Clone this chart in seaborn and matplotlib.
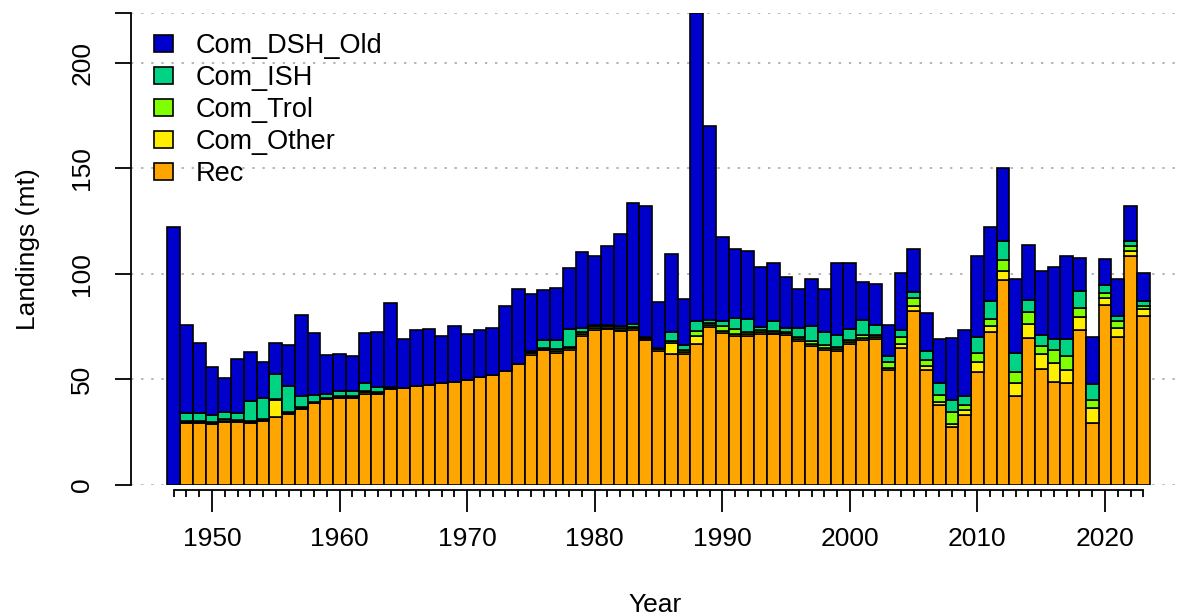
import pandas as pd
import matplotlib
matplotlib.use('Agg')
import matplotlib.pyplot as plt
from matplotlib.patches import Patch
import seaborn as sns

# Landings (mt) by fleet, 1947-2023
years = list(range(1947, 2024))
rec = [0, 29.5, 29.5, 29.0, 30.0, 30.0, 29.5, 30.3, 32.3, 33.8,
       36.0, 38.9, 40.8, 41.4, 41.4, 43.0, 43.2, 45.5, 46.1, 46.8,
       47.4, 48.1, 48.9, 49.6, 51.2, 52.2, 54.1, 57.5, 61.8, 64.0,
       62.5, 64.0, 70.4, 73.6, 73.9, 72.8, 73.3, 68.6, 63.7, 62.0,
       62.0, 66.7, 74.9, 72.0, 70.4, 70.4, 71.4, 71.7, 71.0, 68.2,
       66.0, 64.1, 63.5, 67.0, 68.9, 69.2, 54.4, 65.1, 82.3, 54.7,
       37.8, 27.6, 33.1, 53.3, 72.5, 97.0, 42.2, 69.8, 54.8, 48.9,
       48.4, 73.6, 29.2, 85.1, 70.1, 108.3, 79.9]
com_other = [0, 0.5, 0.5, 0.5, 0.4, 0.5, 0.5, 0.7, 8.0, 0.5,
             0.3, 0.2, 0.3, 0.4, 0.4, 1.0, 0.5, 0.2, 0, 0,
             0, 0, 0, 0, 0, 0, 0, 0, 0.5, 0.5,
             1.0, 1.0, 1.0, 0.8, 0.7, 0.8, 1.2, 0.5, 0.5, 5.3,
             1.0, 3.7, 1.0, 1.0, 1.2, 1.0, 1.0, 0.5, 0.8, 1.0,
             1.0, 1.0, 1.0, 0.8, 0.8, 1.0, 1.0, 1.5, 2.3, 1.5,
             1.5, 1.5, 2.2, 5.0, 3.0, 4.4, 6.2, 6.6, 7.1, 9.1,
             6.3, 6.0, 7.5, 3.6, 4.4, 2.5, 3.6]
com_trol = [0, 0.3, 0.5, 0.5, 1.0, 0.5, 0.5, 0.5, 0.3, 0.5,
            0.5, 0.3, 0.3, 0.5, 0.5, 0.5, 0.5, 0.2, 0, 0,
            0, 0, 0, 0, 0, 0, 0, 0, 0.5, 0.5,
            1.0, 0.5, 1.0, 0.8, 0.5, 0.8, 0.5, 0.5, 0.3, 0.8,
            1.0, 2.5, 1.0, 2.5, 2.5, 1.0, 0.8, 0.8, 0.8, 1.0,
            1.0, 1.0, 1.0, 0.8, 1.2, 1.0, 2.9, 3.5, 4.0, 2.8,
            3.5, 5.5, 2.5, 4.0, 3.3, 5.0, 5.2, 5.6, 3.8, 6.1,
            6.3, 4.4, 3.5, 2.2, 3.2, 2.5, 1.5]
com_ish = [0, 4.0, 3.7, 3.0, 3.0, 3.2, 9.4, 9.8, 11.9, 12.0,
           5.2, 3.0, 1.5, 2.1, 2.3, 3.9, 2.2, 0.3, 0, 0,
           0, 0, 0, 0, 0, 0, 0, 0, 0.7, 3.5,
           4.3, 8.5, 2.0, 0.8, 0.7, 0.8, 1.2, 0.5, 0.3, 4.4,
           2.5, 5.0, 1.5, 2.2, 5.0, 6.2, 1.8, 4.5, 2.0, 4.0,
           7.2, 6.2, 5.4, 5.5, 7.4, 4.4, 2.7, 3.5, 2.6, 4.5,
           5.5, 5.5, 4.5, 8.0, 8.2, 9.0, 9.0, 5.8, 5.2, 5.2,
           8.3, 7.7, 7.6, 4.0, 2.4, 2.5, 2.0]
com_dsh_old = [122.0, 41.3, 33.3, 22.8, 16.3, 25.4, 23.1, 17.0, 14.8, 19.4,
               38.4, 29.6, 18.6, 17.6, 16.4, 23.8, 26.1, 40.2, 23.1, 26.6,
               26.5, 22.3, 26.3, 22.0, 22.1, 22.0, 30.7, 35.5, 27.0, 24.0,
               24.7, 28.6, 36.1, 32.4, 37.2, 43.6, 57.6, 62.0, 22.0, 37.0,
               21.8, 145.7, 91.8, 40.0, 32.8, 32.2, 28.5, 27.6, 23.9, 18.8,
               22.2, 20.4, 34.2, 31.2, 17.8, 19.8, 14.6, 27.0, 20.7, 18.1,
               21.0, 29.6, 31.0, 38.0, 35.1, 34.6, 35.1, 26.1, 30.3, 34.2,
               39.1, 15.9, 22.3, 12.3, 17.3, 16.3, 13.6]

fleets = ['Com_DSH_Old', 'Com_ISH', 'Com_Trol', 'Com_Other', 'Rec']
fleet_colors = ['#0000CD', '#00D383', '#7FFF00', '#FFEE00', '#FFA500']

wide = pd.DataFrame({'Year': years, 'Rec': rec, 'Com_Other': com_other,
                     'Com_Trol': com_trol, 'Com_ISH': com_ish,
                     'Com_DSH_Old': com_dsh_old})
df = wide.melt(id_vars='Year', var_name='Fleet', value_name='Landings')
ymax = wide[fleets].sum(axis=1).max()

sns.set_style('ticks')
plt.rcParams['font.family'] = ['Liberation Sans', 'DejaVu Sans']
plt.rcParams.update({'text.color': 'black', 'axes.labelcolor': 'black',
                     'xtick.color': 'black', 'ytick.color': 'black',
                     'axes.edgecolor': 'black'})

fig = plt.figure(figsize=(11.79, 6.16), dpi=100)
ax = fig.add_axes([131 / 1179, (616 - 485) / 616, 1048 / 1179, 472 / 616])

sns.histplot(data=df, x='Year', weights='Landings', hue='Fleet',
             hue_order=fleets, palette=fleet_colors, multiple='stack',
             discrete=True, shrink=1, alpha=1, edgecolor='black',
             linewidth=1.2, legend=False, ax=ax)

ax.set_xlim(1943.65, 2025.8)
ax.set_ylim(0, ymax)

ax.set_yticks([0, 50, 100, 150, 200, ymax])
ax.set_yticklabels(['0', '50', '100', '150', '200', ''])
ax.set_xticks(range(1950, 2021, 10))
ax.set_xticks(years, minor=True)

ax.set_axisbelow(True)
ax.yaxis.grid(True, color='#b4b4b4', linestyle=(0, (1.2, 4)), linewidth=1.4)
ax.xaxis.grid(False)

for s in ['top', 'right']:
    ax.spines[s].set_visible(False)
ax.spines['left'].set_linewidth(1.3)
ax.spines['bottom'].set_linewidth(1.3)
ax.spines['bottom'].set_position(('outward', 3.6))
ax.spines['bottom'].set_bounds(1947, 2023)

ax.tick_params(axis='x', which='major', length=16, width=1.3, pad=11,
               labelsize=19)
ax.tick_params(axis='x', which='minor', length=5, width=1.3)
ax.tick_params(axis='y', length=11.5, width=1.3, pad=15, labelsize=19)
plt.setp(ax.get_yticklabels(), rotation=90, va='center')

ax.set_xlabel('Year', fontsize=19, labelpad=30)
ax.set_ylabel('Landings (mt)', fontsize=19, labelpad=22)

handles = [Patch(facecolor=c, edgecolor='black', linewidth=1.2, label=f)
           for f, c in zip(fleets, fleet_colors)]
fig.legend(handles=handles, loc='upper left',
           bbox_to_anchor=(154 / 1179, 1 - 33 / 616), frameon=False,
           fontsize=19.5, handlelength=0.7, handleheight=0.6,
           handletextpad=0.85, labelspacing=0.22, borderpad=0,
           borderaxespad=0)

fig.savefig('out.png', dpi=100)
